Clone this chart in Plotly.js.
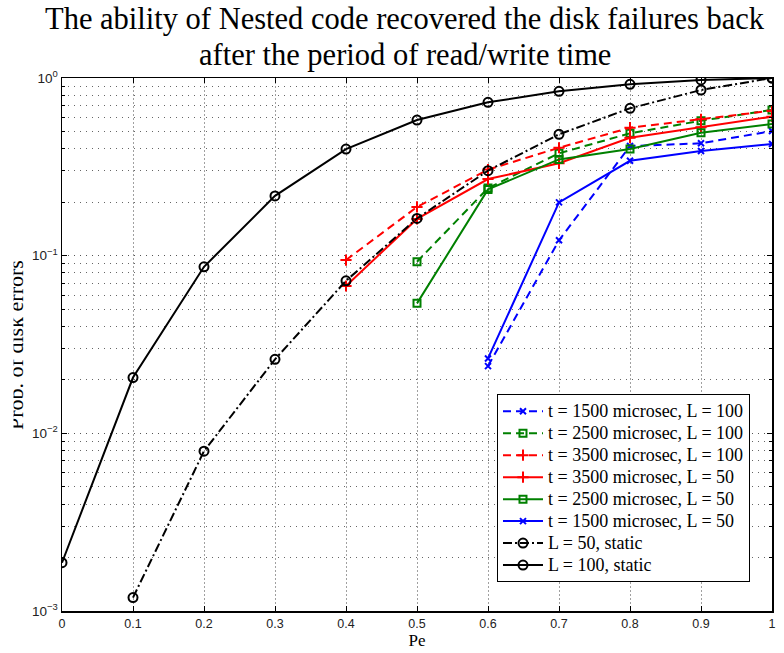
<!DOCTYPE html>
<html>
<head>
<meta charset="utf-8">
<script src="https://cdn.plot.ly/plotly-3.0.1.min.js"></script>
<style>html,body{margin:0;padding:0;background:#fff;}#chart{width:784px;height:653px;}</style>
</head>
<body>
<div id="chart"></div>
<script>
var pe = [0, 0.1, 0.2, 0.3, 0.4, 0.5, 0.6, 0.7, 0.8, 0.9, 1.0];
var peFrom04 = [0.4, 0.5, 0.6, 0.7, 0.8, 0.9, 1.0];
var peFrom05 = [0.5, 0.6, 0.7, 0.8, 0.9, 1.0];
var peFrom06 = [0.6, 0.7, 0.8, 0.9, 1.0];
var peFrom01 = [0.1, 0.2, 0.3, 0.4, 0.5, 0.6, 0.7, 0.8, 0.9, 1.0];

var t1500L100 = [0.0239, 0.122, 0.414, 0.429, 0.503];
var t2500L100 = [0.0924, 0.240, 0.377, 0.488, 0.575, 0.661];
var t3500L100 = [0.0945, 0.188, 0.305, 0.405, 0.525, 0.585, 0.655];
var t3500L50  = [0.0675, 0.161, 0.270, 0.331, 0.461, 0.528, 0.606];
var t2500L50  = [0.0539, 0.236, 0.348, 0.398, 0.492, 0.551];
var t1500L50  = [0.0264, 0.1995, 0.342, 0.388, 0.425];
var staticL50  = [0.00119, 0.00794, 0.0261, 0.0722, 0.162, 0.301, 0.482, 0.675, 0.856, 1.0];
var staticL100 = [0.00187, 0.0206, 0.0866, 0.217, 0.398, 0.580, 0.730, 0.841, 0.922, 0.975, 1.0];

var names = [
  't = 1500 microsec, L = 100',
  't = 2500 microsec, L = 100',
  't = 3500 microsec, L = 100',
  't = 3500 microsec, L = 50',
  't = 2500 microsec, L = 50',
  't = 1500 microsec, L = 50',
  'L = 50, static',
  'L = 100, static'
];
var titleLines = ['The ability of Nested code recovered the disk failures back', 'after the period of read/write time'];
var xTitle = 'Pe';
var yTitle = 'Prob. of disk errors';
var xTickVals = [0, 0.1, 0.2, 0.3, 0.4, 0.5, 0.6, 0.7, 0.8, 0.9, 1];
var xTickText = ['0', '0.1', '0.2', '0.3', '0.4', '0.5', '0.6', '0.7', '0.8', '0.9', '1'];
var yTickVals = [0.001, 0.01, 0.1, 1];
var yTickText = ['10<sup>\u22123</sup>', '10<sup>\u22122</sup>', '10<sup>\u22121</sup>', '10<sup>0</sup>'];

var SERIF = 'Liberation Serif, Times New Roman, serif';
var SANS = 'Liberation Sans, Arial, sans-serif';
var DASH = '8px,5px';
var DASHDOT = '9px,3px,2px,3px';
function legendName(n) { return '<span style="font-size:18px">' + n + '</span>'; }
function tr(x, y, name, color, dash, symbol, msize) {
  return {
    x: x, y: y, name: legendName(name), type: 'scatter', mode: 'lines+markers',
    line: {color: color, width: 2, dash: dash},
    marker: {symbol: symbol, size: msize, color: color, line: {color: color, width: 2}}
  };
}
var data = [
  tr(peFrom06, t1500L100, names[0], '#0000ff', DASH, 'x-thin', 6),
  tr(peFrom05, t2500L100, names[1], '#008000', DASH, 'square-open', 7),
  tr(peFrom04, t3500L100, names[2], '#ff0000', DASH, 'cross-thin', 8),
  tr(peFrom04, t3500L50,  names[3], '#ff0000', 'solid', 'cross-thin', 8),
  tr(peFrom05, t2500L50,  names[4], '#008000', 'solid', 'square-open', 7),
  tr(peFrom06, t1500L50,  names[5], '#0000ff', 'solid', 'x-thin', 6),
  tr(peFrom01, staticL50, names[6], '#000000', DASHDOT, 'circle-open', 9),
  tr(pe, staticL100,      names[7], '#000000', 'solid', 'circle-open', 9)
];

var minorVals = [];
[0.001, 0.01, 0.1].forEach(function(d){ for (var k = 2; k <= 9; k++) minorVals.push(d * k); });

var layout = {
  width: 784, height: 653,
  paper_bgcolor: '#ffffff', plot_bgcolor: '#ffffff',
  margin: {l: 62, r: 12, t: 78, b: 42},
  showlegend: true,
  xaxis: {
    range: [0, 1], tickmode: 'array', tickvals: xTickVals, ticktext: xTickText,
    ticks: 'inside', ticklen: 5, tickcolor: '#000', mirror: 'ticks',
    showline: true, linecolor: '#000', linewidth: 1.5,
    showgrid: true, gridcolor: '#a0a0a0', griddash: '2px,2px', gridwidth: 1,
    zeroline: false,
    tickfont: {family: SANS, size: 12.5, color: '#222'},
    title: {text: xTitle, font: {family: SERIF, size: 17, color: '#000'}, standoff: 4}
  },
  yaxis: {
    type: 'log', range: [-3, 0], tickmode: 'array', tickvals: yTickVals, ticktext: yTickText,
    ticks: 'inside', ticklen: 5, tickcolor: '#000', mirror: 'ticks',
    showline: true, linecolor: '#000', linewidth: 1.5,
    showgrid: true, gridcolor: '#555555', griddash: '1px,5px', gridwidth: 1,
    zeroline: false,
    tickfont: {family: SANS, size: 13.5, color: '#222'},
    minor: {tickmode: 'array', tickvals: minorVals, ticks: 'inside', ticklen: 3, tickcolor: '#000',
            showgrid: true, gridcolor: '#666666', griddash: '1px,5px', gridwidth: 1}
  },
  legend: {
    x: 0.969, xanchor: 'right', y: 0.054, yanchor: 'bottom',
    bgcolor: '#ffffff', bordercolor: '#000', borderwidth: 1,
    font: {family: SERIF, size: 14.6, color: '#000'},
    itemwidth: 40,
    tracegroupgap: 0
  },
  annotations: [
    {text: titleLines[0], xref: 'paper', yref: 'paper', x: 0.483, y: 1.1107,
     xanchor: 'center', yanchor: 'middle', showarrow: false,
     font: {family: SERIF, size: 30.5, color: '#000'}},
    {text: titleLines[1], xref: 'paper', yref: 'paper', x: 0.483, y: 1.0432,
     xanchor: 'center', yanchor: 'middle', showarrow: false,
     font: {family: SERIF, size: 30.5, color: '#000'}},
    {text: yTitle, xref: 'paper', yref: 'paper', x: -0.0655, y: 0.5,
     xanchor: 'center', yanchor: 'middle', textangle: -90, showarrow: false,
     font: {family: SERIF, size: 22, color: '#000'}},
    {text: ' ', xref: 'paper', yref: 'paper', x: -0.0873, y: 0.5, xanchor: 'left', yanchor: 'middle',
     width: 12, height: 330, bgcolor: '#ffffff', showarrow: false, borderpad: 0}
  ]
};

Plotly.newPlot('chart', data, layout, {staticPlot: true, displayModeBar: false});
</script>
</body>
</html>
